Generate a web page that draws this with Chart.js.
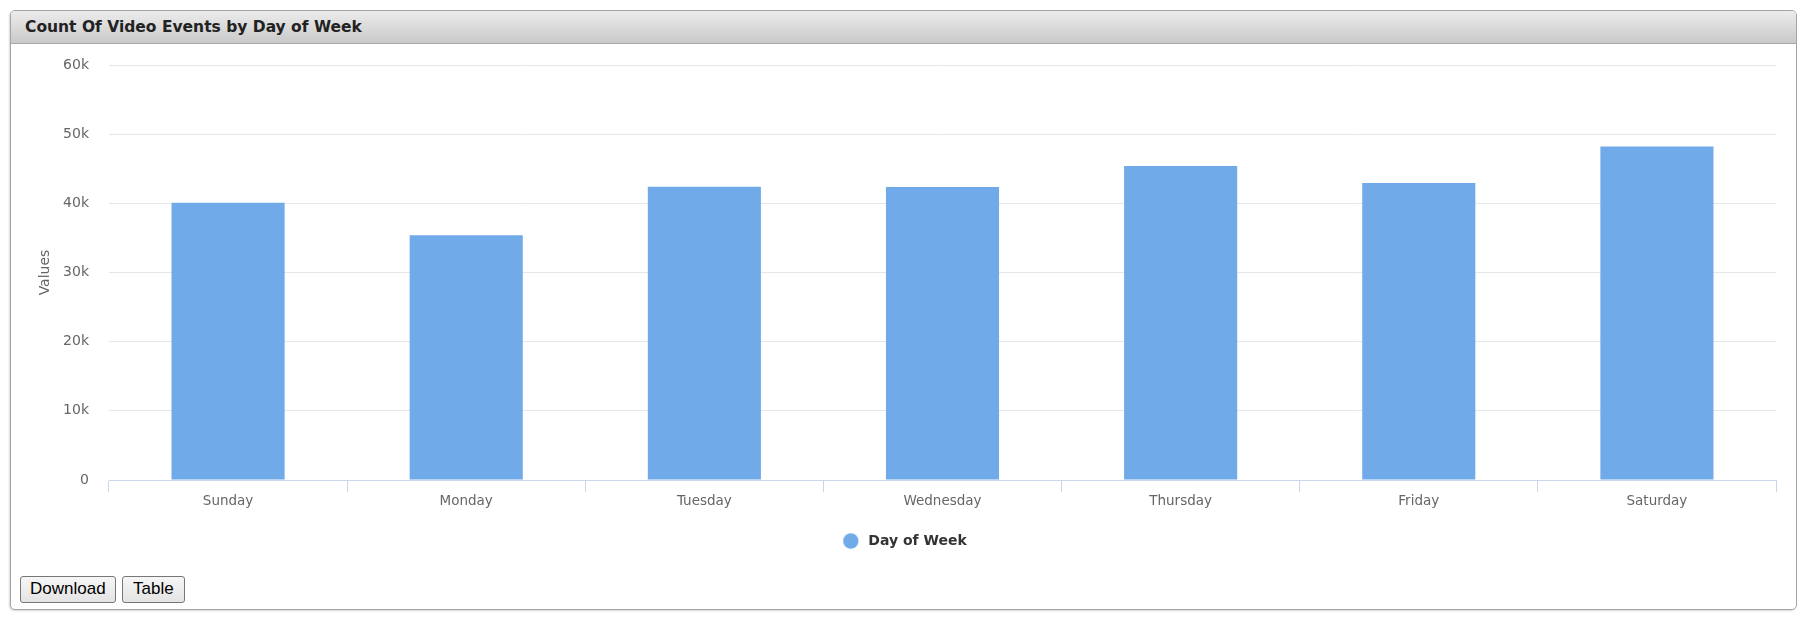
<!DOCTYPE html>
<html>
<head>
<meta charset="utf-8">
<script src="https://cdn.jsdelivr.net/npm/chart.js@4/dist/chart.umd.min.js"></script>
<style>
  body { margin: 0; background: #fff; font-family: "DejaVu Sans", Verdana, sans-serif; }
  #panel {
    position: absolute; left: 10px; top: 10px; width: 1785px; height: 598px;
    border: 1px solid #a4a4a4; border-radius: 5px; box-shadow: -1px 1px 2px rgba(0,0,0,0.15);
    overflow: hidden; background: #fff;
  }
  #header {
    height: 32px; border-bottom: 1px solid #a9a9a9;
    background: linear-gradient(#ececec, #c9c9c9);
    font: bold 15.5px "DejaVu Sans", Verdana, sans-serif; color: #222;
    line-height: 33px; padding-left: 14px;
  }
  #chartBox { position: absolute; left: 0; top: 33px; }
  #buttons { position: absolute; left: 9px; top: 565px; }
  #buttons button {
    font: 17px "Liberation Sans", Arial, sans-serif; color: #000;
    padding: 2px 9px 3px; margin-right: 6px;
    border: 1px solid #777; border-radius: 3px; background: linear-gradient(#f6f6f6, #e4e4e4);
  }
  #buttons #tableBtn { padding: 2px 10.5px 3px; }
</style>
</head>
<body>
<div id="panel">
  <div id="header">Count Of Video Events by Day of Week</div>
  <div id="chartBox"><canvas id="myChart" width="1785" height="516"></canvas></div>
  <div id="buttons"><button>Download</button><button id="tableBtn">Table</button></div>
</div>
<script>
// data
let days = ['Sunday', 'Monday', 'Tuesday', 'Wednesday', 'Thursday', 'Friday', 'Saturday']
let counts = [40100, 35400, 42400, 42350, 45400, 42950, 48200]
let seriesName = 'Day of Week'

let barColor = '#71aae9'

// legend marker: a round dot, sitting right of centre in a wide box so the text gap matches
let dot = document.createElement('canvas')
dot.width = 41
dot.height = 16
let dctx = dot.getContext('2d')
dctx.fillStyle = barColor
dctx.beginPath()
dctx.arc(30.5, 8, 7.7, 0, Math.PI * 2)
dctx.fill()

let ctx = document.getElementById('myChart').getContext('2d')

let myBarChart = new Chart(ctx, {
  type: 'bar',
  data: {
    labels: days,
    datasets: [{
      label: seriesName,
      backgroundColor: barColor,
      borderWidth: 0,
      barPercentage: 0.475,
      categoryPercentage: 1.0,
      data: counts
    }]
  },
  options: {
    responsive: false,
    animation: false,
    layout: { padding: { left: 0, right: 20, top: 21, bottom: 2 } },
    plugins: {
      tooltip: { enabled: false },
      legend: {
        position: 'bottom',
        labels: {
          usePointStyle: true,
          pointStyle: dot,
          pointStyleWidth: 41,
          boxHeight: 14,
          padding: 10,
          color: '#333333',
          font: { family: 'DejaVu Sans', size: 14, weight: 'bold' }
        }
      }
    },
    scales: {
      x: {
        afterFit: (scale) => { scale.height = 44 },
        border: { color: '#ccd6eb' },
        grid: { offset: true, drawOnChartArea: false, tickLength: 12, color: '#ccd6eb' },
        ticks: { padding: 1, color: '#666666', font: { family: 'DejaVu Sans', size: 13.5 } }
      },
      y: {
        min: 0,
        max: 60000,
        afterFit: (scale) => {
          scale.width = 98
          scale.paddingTop = 0
          scale.paddingBottom = 0
        },
        border: { display: false },
        grid: { color: '#e6e6e6', drawTicks: false },
        ticks: {
          stepSize: 10000,
          padding: 20,
          color: '#666666',
          font: { family: 'DejaVu Sans', size: 14 },
          callback: (v) => v == 0 ? '0' : (v / 1000) + 'k'
        },
        title: {
          display: true,
          text: 'Values',
          color: '#666666',
          padding: { top: 26, bottom: 0 },
          font: { family: 'DejaVu Sans', size: 14 }
        }
      }
    }
  }
})
</script>
</body>
</html>
